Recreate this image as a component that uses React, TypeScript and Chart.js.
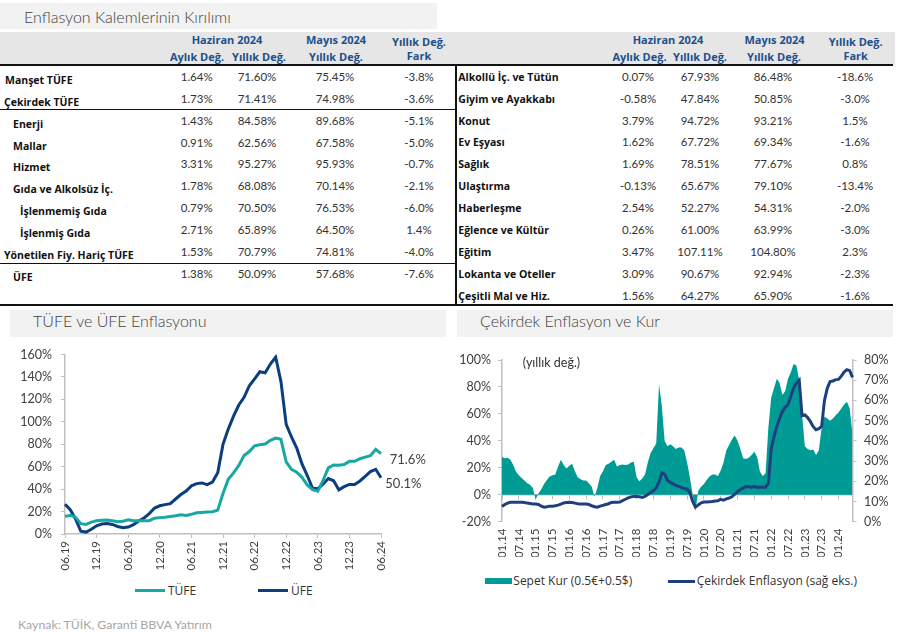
import React, { useEffect, useRef } from 'react';
import { Chart, registerables } from 'chart.js';
Chart.register(...registerables);

const FONT = 'Lato, "Open Sans", "DejaVu Sans", sans-serif';
const FONT2 = '"Open Sans", Lato, "DejaVu Sans", sans-serif';
Chart.defaults.font.family = FONT;
Chart.defaults.color = '#404040';

// ---------- Table data ----------
const leftRowLabels = ['Manşet TÜFE', 'Çekirdek TÜFE', 'Enerji', 'Mallar', 'Hizmet', 'Gıda ve Alkolsüz İç.', 'İşlenmemiş Gıda', 'İşlenmiş Gıda', 'Yönetilen Fiy. Hariç TÜFE', 'ÜFE'];
const leftMonthly = [1.64, 1.73, 1.43, 0.91, 3.31, 1.78, 0.79, 2.71, 1.53, 1.38];
const leftAnnual = [71.6, 71.41, 84.58, 62.56, 95.27, 68.08, 70.5, 65.89, 70.79, 50.09];
const leftPrevAnnual = [75.45, 74.98, 89.68, 67.58, 95.93, 70.14, 76.53, 64.5, 74.81, 57.68];
const leftDiff = [-3.8, -3.6, -5.1, -5.0, -0.7, -2.1, -6.0, 1.4, -4.0, -7.6];

const rightRowLabels = ['Alkollü İç. ve Tütün', 'Giyim ve Ayakkabı', 'Konut', 'Ev Eşyası', 'Sağlık', 'Ulaştırma', 'Haberleşme', 'Eğlence ve Kültür', 'Eğitim', 'Lokanta ve Oteller', 'Çeşitli Mal ve Hiz.'];
const rightMonthly = [0.07, -0.58, 3.79, 1.62, 1.69, -0.13, 2.54, 0.26, 3.47, 3.09, 1.56];
const rightAnnual = [67.93, 47.84, 94.72, 67.72, 78.51, 65.67, 52.27, 61.0, 107.11, 90.67, 64.27];
const rightPrevAnnual = [86.48, 50.85, 93.21, 69.34, 77.67, 79.1, 54.31, 63.99, 104.8, 92.94, 65.9];
const rightDiff = [-18.6, -3.0, 1.5, -1.6, 0.8, -13.4, -2.0, -3.0, 2.3, -2.3, -1.6];

// ---------- Chart 1: TÜFE / ÜFE (06.19 - 06.24, monthly) ----------
const tufe = [
  15.72, 16.65, 15.01, 9.26, 8.55, 10.56, 11.84,
  12.15, 12.37, 11.86, 10.94, 11.39, 12.62, 11.76, 11.77, 11.75, 11.89, 14.03, 14.6,
  14.97, 15.61, 16.19, 17.14, 16.59, 17.53, 18.95, 19.25, 19.58, 19.89, 21.31, 36.08,
  48.69, 54.44, 61.14, 69.97, 73.5, 78.62, 79.6, 80.21, 83.45, 85.51, 84.39, 64.27,
  57.68, 55.18, 50.51, 43.68, 39.59, 38.21, 47.83, 58.94, 61.53, 61.36, 61.98, 64.77,
  64.86, 67.07, 68.5, 69.8, 75.45, 71.6,
];
const ufe = [
  26.5, 21.66, 13.45, 2.45, 1.7, 4.26, 7.36,
  8.84, 9.26, 8.5, 6.71, 5.53, 6.17, 8.33, 11.53, 14.33, 18.2, 23.11, 25.15,
  26.16, 27.09, 31.2, 35.17, 38.33, 42.89, 44.92, 45.52, 43.96, 46.31, 54.62, 79.89,
  93.53, 105.01, 114.97, 121.82, 132.16, 138.31, 144.61, 143.75, 151.5, 157.69, 136.02, 97.72,
  86.46, 76.61, 62.43, 52.11, 40.76, 40.42, 44.5, 49.41, 47.44, 39.39, 42.25, 44.22,
  44.2, 47.29, 51.47, 55.66, 57.68, 50.09,
];

// ---------- Chart 2: Sepet Kur / Çekirdek (01.14 - 06.24, monthly) ----------
const sepetKur = [
  28, 27, 27.5, 26, 22, 17, 14.5, 12.5, 10.5, 8.5, 7.5, 5,
  -3.5, 1, 4, 8, 11, 13.5, 14.5, 15, 21, 26, 22, 19.5,
  21.5, 23, 17.5, 13, 11.5, 10.5, 10.5, 8.5, 6, -1.5, 5, 14,
  17.5, 22, 23, 24.5, 26, 21, 22, 22.5, 22, 22.5, 24, 24.5,
  13, 10, 12, 15, 24, 31, 34.5, 38, 82, 66, 40, 36,
  37.5, 36, 34, 35, 35, 33, 24, 13, 0, -12, 3, 6,
  8, 11, 13.5, 15, 15, 14, 18, 24, 33, 37, 41, 44,
  40, 34, 27, 26.5, 27.5, 29.5, 32, 28, 17, 14, 16, 50,
  72, 79, 86, 83, 74, 77, 86, 91, 97, 96, 85, 60,
  36, 34, 33, 33.5, 29.5, 33, 50, 58, 56.5, 55, 56.5, 59,
  61, 64, 67, 69, 64, 45,
];
const cekirdek = [
  7.5, 8.5, 9.2, 9.6, 9.6, 9.6, 9.6, 9.6, 9.5, 9.2, 9.0, 8.8,
  8.7, 8.5, 7.7, 7.2, 7.4, 7.7, 7.7, 7.9, 8.2, 8.7, 9.3, 9.5,
  9.6, 9.5, 9.2, 8.9, 8.8, 8.8, 8.7, 8.5, 7.9, 7.4, 7.2, 7.7,
  8.1, 8.5, 8.9, 9.5, 9.6, 9.6, 9.7, 10.4, 11.1, 11.8, 12.3, 12.5,
  12.5, 12.3, 12.0, 12.5, 13.4, 14.4, 15.3, 16.8, 19.5, 24.2, 23.5, 20.5,
  19.5, 18.7, 18.0, 17.5, 16.9, 16.4, 16.1, 14.5, 10, 7.2, 8.3, 9.3,
  9.7, 9.8, 9.9, 10.0, 10.2, 10.4, 11.1, 10.7, 11.3, 11.7, 12.3, 13.6,
  14.9, 15.9, 16.6, 17.4, 17.3, 17.1, 17.4, 17.1, 17.1, 17.1, 17.1, 19,
  36, 42, 47, 51, 54.5, 56.5, 58, 62, 66, 68.5, 70, 52.5,
  52.8, 51.5, 49.5, 47, 45.5, 46, 47.2, 60, 66, 69.3, 69.6, 70.3,
  70.4, 72, 74, 75.2, 74.7, 71.4,
];

function monthLabels(startMonth: number, startYear: number, count: number): string[] {
  const out: string[] = [];
  for (let i = 0; i < count; i++) {
    const m = ((startMonth - 1 + i) % 12) + 1;
    const y = startYear + Math.floor((startMonth - 1 + i) / 12);
    out.push(String(m).padStart(2, '0') + '.' + String(y % 100).padStart(2, '0'));
  }
  return out;
}
const chart1Labels = monthLabels(6, 2019, tufe.length);
const chart2Labels = monthLabels(1, 2014, sepetKur.length);

const C_TUFE = '#17A8A4';
const C_UFE = '#0B3E7E';
const C_KUR = '#009B95';
const C_CORE = '#1F3F7E';
const AXIS = '#BFBFBF';
const TRANSPARENT = 'rgba(0,0,0,0)';

const pct2 = (v: number) => v.toFixed(2) + '%';
const pct1 = (v: number) => v.toFixed(1) + '%';

const Txt = ({ x, y, align = 'left', children, style }: any) => (
  <div
    style={{
      position: 'absolute',
      left: x,
      top: y,
      transform: `translate(${align === 'center' ? '-50%' : align === 'right' ? '-100%' : '0'}, -50%)`,
      whiteSpace: 'nowrap',
      lineHeight: 1.2,
      ...style,
    }}
  >
    {children}
  </div>
);

const Rect = ({ x, y, w, h, c }: any) => (
  <div style={{ position: 'absolute', left: x, top: y, width: w, height: h, background: c }} />
);

const endLabelDx = [8.7, 4.3];
const endLabels = {
  id: 'endLabels',
  afterDatasetsDraw(chart: any) {
    const ctx = chart.ctx;
    chart.data.datasets.forEach((ds: any, i: number) => {
      const meta = chart.getDatasetMeta(i);
      const pt = meta.data[meta.data.length - 1];
      const v = ds.data[ds.data.length - 1];
      ctx.save();
      ctx.font = `13px ${FONT}`;
      ctx.fillStyle = '#404040';
      ctx.textBaseline = 'middle';
      ctx.fillText(pct1(v), pt.x + endLabelDx[i], pt.y + 6.5);
      ctx.restore();
    });
  },
};

function TufeChart() {
  const ref = useRef<HTMLCanvasElement>(null);
  useEffect(() => {
    const chart = new Chart(ref.current as HTMLCanvasElement, {
      type: 'line',
      data: {
        labels: chart1Labels,
        datasets: [
          { label: 'TÜFE', data: tufe, borderColor: C_TUFE, borderWidth: 3, pointRadius: 0, tension: 0 },
          { label: 'ÜFE', data: ufe, borderColor: C_UFE, borderWidth: 3, pointRadius: 0, tension: 0 },
        ],
      },
      options: {
        responsive: false,
        animation: false,
        layout: { padding: { top: 10.7, right: 69, bottom: 0, left: 0 } },
        plugins: { legend: { display: false }, tooltip: { enabled: false } },
        scales: {
          x: {
            type: 'category',
            offset: false,
            grid: {
              drawOnChartArea: false,
              drawTicks: true,
              tickLength: 4,
              color: (c: any) => (c.index % 6 === 0 ? AXIS : TRANSPARENT),
            },
            border: { display: true, color: AXIS, width: 1.5 },
            ticks: {
              autoSkip: false,
              maxRotation: 90,
              minRotation: 90,
              padding: 3,
              font: { size: 11.5 },
              color: '#404040',
              callback: (_v: any, i: number) => (i % 6 === 0 ? chart1Labels[i] : ''),
            },
            afterFit: (s: any) => {
              s.height = 44;
            },
          },
          y: {
            min: 0,
            max: 160,
            ticks: { stepSize: 20, padding: 9, font: { size: 12.5 }, color: '#404040', callback: (v: any) => v + '%' },
            grid: { drawOnChartArea: false, tickLength: 4, color: AXIS },
            border: { color: AXIS, width: 1.5 },
            afterFit: (s: any) => {
              s.width = 65;
            },
          },
        },
      } as any,
      plugins: [endLabels],
    });
    return () => chart.destroy();
  }, []);
  return (
    <div style={{ position: 'absolute', left: 0, top: 338, width: 450, height: 240 }}>
      <canvas ref={ref} width={450} height={240} />
    </div>
  );
}

function KurChart() {
  const ref = useRef<HTMLCanvasElement>(null);
  useEffect(() => {
    const chart = new Chart(ref.current as HTMLCanvasElement, {
      type: 'line',
      data: {
        labels: chart2Labels,
        datasets: [
          {
            label: 'Çekirdek Enflasyon (sağ eks.)',
            data: cekirdek,
            yAxisID: 'y2',
            borderColor: C_CORE,
            borderWidth: 3,
            pointRadius: 0,
            tension: 0,
            order: 0,
          },
          {
            label: 'Sepet Kur (0.5€+0.5$)',
            data: sepetKur,
            yAxisID: 'y',
            fill: 'origin',
            backgroundColor: C_KUR,
            borderColor: C_KUR,
            borderWidth: 0,
            pointRadius: 0,
            tension: 0,
            order: 1,
          },
        ],
      },
      options: {
        responsive: false,
        animation: false,
        layout: { padding: { top: 10.7, right: 0, bottom: 0, left: 0 } },
        plugins: { legend: { display: false }, tooltip: { enabled: false } },
        scales: {
          x: {
            type: 'category',
            offset: false,
            grid: { drawOnChartArea: false, drawTicks: true, tickLength: 4, color: TRANSPARENT },
            border: { display: false },
            ticks: {
              autoSkip: false,
              maxRotation: 90,
              minRotation: 90,
              padding: 3,
              font: { size: 11.5 },
              color: '#404040',
              callback: (_v: any, i: number) => (i % 6 === 0 ? chart2Labels[i] : ''),
            },
            afterFit: (s: any) => {
              s.height = 35.3;
            },
          },
          x2: {
            type: 'category',
            axis: 'x',
            position: { y: 0 },
            offset: false,
            ticks: { display: false },
            grid: {
              drawOnChartArea: false,
              drawTicks: true,
              tickLength: 4,
              color: (c: any) => (c.index % 6 === 0 ? AXIS : TRANSPARENT),
            },
            border: { display: true, color: AXIS, width: 1.5 },
          },
          y: {
            position: 'left',
            min: -20,
            max: 100,
            ticks: { stepSize: 20, padding: 7, font: { size: 12.5 }, color: '#404040', callback: (v: any) => v + '%' },
            grid: { drawOnChartArea: false, tickLength: 4, color: AXIS },
            border: { color: AXIS, width: 1.5 },
            afterFit: (s: any) => {
              s.width = 52;
            },
          },
          y2: {
            position: 'right',
            min: 0,
            max: 80,
            ticks: { stepSize: 10, padding: 7.5, font: { size: 12.5 }, color: '#404040', callback: (v: any) => v + '%' },
            grid: { drawOnChartArea: false, tickLength: 4, color: AXIS },
            border: { color: AXIS, width: 1.5 },
            afterFit: (s: any) => {
              s.width = 45.5;
            },
          },
        },
      } as any,
    });
    return () => chart.destroy();
  }, []);
  return (
    <div style={{ position: 'absolute', left: 450, top: 345, width: 448, height: 212 }}>
      <canvas ref={ref} width={448} height={212} />
    </div>
  );
}

const headStyle = { color: '#1D4F8C', fontWeight: 700, fontSize: 11, fontFamily: FONT2 };
const labelStyle = { color: '#111', fontWeight: 700, fontSize: 10.5, fontFamily: FONT2 };
const numStyle = { color: '#333', fontWeight: 400, fontSize: 11.5 };
const titleStyle = { color: '#404040', fontWeight: 300, fontSize: 16 };
const legendStyle = { fontSize: 12, color: '#333', fontFamily: FONT2 };

const LEFT_INDENT = [5, 4, 13, 13, 13, 13, 20, 20, 4, 13];
const LEFT_COLS = [196.7, 257, 335, 419];
const RIGHT_COLS = [638, 700, 773, 855];

export default function App() {
  const leftY = (i: number) => 80 + i * 21.85;
  const rightY = (i: number) => 76.7 + i * 21.9;
  return (
    <div
      style={{
        position: 'absolute',
        left: 0,
        top: 0,
        width: 898,
        height: 638,
        background: '#fff',
        fontFamily: FONT,
        overflow: 'hidden',
      }}
    >
      {/* Title bar */}
      <Rect x={0} y={3.3} w={437} h={26} c="#F2F2F2" />
      <Txt x={24} y={16.5} style={titleStyle}>Enflasyon Kalemlerinin Kırılımı</Txt>

      {/* Header bands */}
      <Rect x={0} y={31.7} w={895} h={33} c="#E6E6E6" />
      <Txt x={227} y={40} align="center" style={headStyle}>Haziran 2024</Txt>
      <Txt x={197} y={57} align="center" style={headStyle}>Aylık Değ.</Txt>
      <Txt x={259} y={57} align="center" style={headStyle}>Yıllık Değ.</Txt>
      <Txt x={336} y={40} align="center" style={headStyle}>Mayıs 2024</Txt>
      <Txt x={336} y={57} align="center" style={headStyle}>Yıllık Değ.</Txt>
      <Txt x={419} y={42} align="center" style={headStyle}>Yıllık Değ.</Txt>
      <Txt x={419} y={56} align="center" style={headStyle}>Fark</Txt>

      <Txt x={668} y={40} align="center" style={headStyle}>Haziran 2024</Txt>
      <Txt x={639.5} y={57} align="center" style={headStyle}>Aylık Değ.</Txt>
      <Txt x={700} y={57} align="center" style={headStyle}>Yıllık Değ.</Txt>
      <Txt x={774.5} y={40} align="center" style={headStyle}>Mayıs 2024</Txt>
      <Txt x={774} y={57} align="center" style={headStyle}>Yıllık Değ.</Txt>
      <Txt x={855.7} y={42} align="center" style={headStyle}>Yıllık Değ.</Txt>
      <Txt x={855.7} y={56} align="center" style={headStyle}>Fark</Txt>

      {/* Table rules */}
      <Rect x={0} y={64.3} w={893} h={2} c="#111" />
      <Rect x={0} y={108.6} w={455} h={1.6} c="#111" />
      <Rect x={0} y={262.5} w={455} h={1.6} c="#111" />
      <Rect x={0} y={304} w={893} h={2} c="#111" />
      <Rect x={454.5} y={65} w={2} h={240} c="#111" />

      {/* Left table rows */}
      {leftRowLabels.map((lab, i) => (
        <React.Fragment key={'l' + i}>
          <Txt x={LEFT_INDENT[i]} y={leftY(i)} style={labelStyle}>{lab}</Txt>
          <Txt x={LEFT_COLS[0]} y={leftY(i) - 3} align="center" style={numStyle}>{pct2(leftMonthly[i])}</Txt>
          <Txt x={LEFT_COLS[1]} y={leftY(i) - 3} align="center" style={numStyle}>{pct2(leftAnnual[i])}</Txt>
          <Txt x={LEFT_COLS[2]} y={leftY(i) - 3} align="center" style={numStyle}>{pct2(leftPrevAnnual[i])}</Txt>
          <Txt x={LEFT_COLS[3]} y={leftY(i) - 3} align="center" style={numStyle}>{pct1(leftDiff[i])}</Txt>
        </React.Fragment>
      ))}

      {/* Right table rows */}
      {rightRowLabels.map((lab, i) => (
        <React.Fragment key={'r' + i}>
          <Txt x={458.3} y={rightY(i)} style={labelStyle}>{lab}</Txt>
          <Txt x={RIGHT_COLS[0]} y={rightY(i)} align="center" style={numStyle}>{pct2(rightMonthly[i])}</Txt>
          <Txt x={RIGHT_COLS[1]} y={rightY(i)} align="center" style={numStyle}>{pct2(rightAnnual[i])}</Txt>
          <Txt x={RIGHT_COLS[2]} y={rightY(i)} align="center" style={numStyle}>{pct2(rightPrevAnnual[i])}</Txt>
          <Txt x={RIGHT_COLS[3]} y={rightY(i)} align="center" style={numStyle}>{pct1(rightDiff[i])}</Txt>
        </React.Fragment>
      ))}

      {/* Chart titles */}
      <Rect x={10} y={310} w={436} h={26.7} c="#F2F2F2" />
      <Txt x={33} y={320.5} style={titleStyle}>TÜFE ve ÜFE Enflasyonu</Txt>
      <Rect x={456.7} y={310} w={436.3} h={26.7} c="#F2F2F2" />
      <Txt x={480} y={320.5} style={titleStyle}>Çekirdek Enflasyon ve Kur</Txt>

      <TufeChart />
      <KurChart />

      <Txt x={522.7} y={362.3} style={{ fontSize: 12.5, color: '#333' }}>(yıllık değ.)</Txt>

      {/* Left legend */}
      <Rect x={135} y={589.2} w={30} h={3} c={C_TUFE} />
      <Txt x={168} y={590.7} style={legendStyle}>TÜFE</Txt>
      <Rect x={258} y={589.2} w={30} h={3} c={C_UFE} />
      <Txt x={291} y={590.7} style={legendStyle}>ÜFE</Txt>

      {/* Right legend */}
      <Rect x={485} y={577.7} w={26.7} h={6.7} c={C_KUR} />
      <Txt x={513.3} y={581} style={legendStyle}>Sepet Kur (0.5€+0.5$)</Txt>
      <Rect x={668.3} y={579.5} w={27} h={3} c={C_CORE} />
      <Txt x={696.7} y={581} style={legendStyle}>Çekirdek Enflasyon (sağ eks.)</Txt>

      <Txt x={18} y={625} style={{ fontSize: 12.3, color: '#A6A6A6' }}>Kaynak: TÜİK, Garanti  BBVA Yatırım</Txt>
    </div>
  );
}
